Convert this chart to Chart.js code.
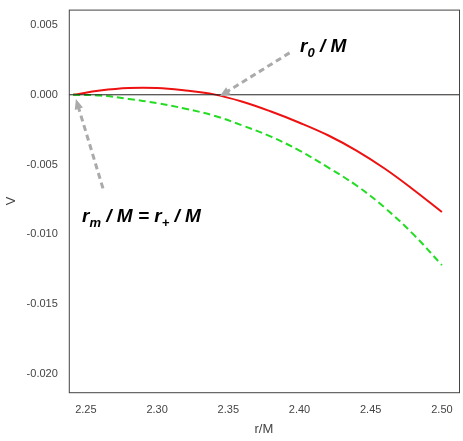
<!DOCTYPE html>
<html><head><script src="https://cdn.jsdelivr.net/npm/chart.js@4"></script>
<style>body{margin:0;background:#fff}#w{width:463px;height:441px}</style></head>
<body><div id="w"><canvas id="c"></canvas></div>
<script>
const xs = [2.241,2.26,2.28,2.30,2.32,2.34,2.36,2.38,2.40,2.42,2.44,2.46,2.48,2.50];
const redV = [0,0.0003,0.00048,0.00048,0.0003,0.00003,-0.0005,-0.0012,-0.0020,-0.0029,-0.0040,-0.0053,-0.0068,-0.0084];
const greenV = [0,-0.00005,-0.0003,-0.0006,-0.0010,-0.0015,-0.0022,-0.0030,-0.0040,-0.0052,-0.0065,-0.0081,-0.0100,-0.0122];
const xTicks = [2.25,2.30,2.35,2.40,2.45,2.50];
const yTicks = [-0.020,-0.015,-0.010,-0.005,0.000,0.005];
const xMin = 2.238, xMax = 2.512, yMin = -0.0213, yMax = 0.0061;

const deco = {id:'deco', afterDatasetsDraw(ch){
  const {ctx, chartArea:a, scales:{x,y}} = ch;
  ctx.save();
  ctx.strokeStyle='#444'; ctx.lineWidth=1; ctx.strokeRect(a.left+0.5,a.top+0.5,a.right-a.left,a.bottom-a.top);
  function arrow(x1,y1,x2,y2){
    const X1=x.getPixelForValue(x1),Y1=y.getPixelForValue(y1),X2=x.getPixelForValue(x2),Y2=y.getPixelForValue(y2);
    const ang=Math.atan2(Y2-Y1,X2-X1);
    ctx.strokeStyle='#aaa'; ctx.fillStyle='#aaa'; ctx.lineWidth=3; ctx.setLineDash([6,4]);
    ctx.beginPath(); ctx.moveTo(X1,Y1); ctx.lineTo(X2-9*Math.cos(ang),Y2-9*Math.sin(ang)); ctx.stroke();
    ctx.setLineDash([]);
    ctx.beginPath(); ctx.moveTo(X2,Y2);
    ctx.lineTo(X2-11*Math.cos(ang-0.4),Y2-11*Math.sin(ang-0.4));
    ctx.lineTo(X2-11*Math.cos(ang+0.4),Y2-11*Math.sin(ang+0.4)); ctx.fill();
  }
  arrow(2.393,0.0030,2.344,-0.0001);
  arrow(2.262,-0.0067,2.243,-0.0003);
  ctx.fillStyle='#000'; ctx.textBaseline='alphabetic';
  function sub(parts,px,py){let cx=px;for(const [t,s] of parts){ctx.font=s?'italic bold 13px "Liberation Sans"':'italic bold 19px "Liberation Sans"';ctx.fillText(t,cx,py+(s?5:0));cx+=ctx.measureText(t).width;}}
  sub([['r',0],['0',1],[' / M',0]],300,52);
  sub([['r',0],['m',1],[' / M = r',0],['+',1],[' / M',0]],82,222);
  ctx.restore();
}};
new Chart(document.getElementById('c'),{type:'line',
 data:{datasets:[
  {data:[{x:xMin,y:0},{x:xMax,y:0}],borderColor:'#222',borderWidth:1,pointRadius:0},
  {data:xs.map((v,i)=>({x:v,y:greenV[i]})),borderColor:'#22dd22',borderWidth:2,borderDash:[7,4],pointRadius:0,tension:0.4},
  {data:xs.map((v,i)=>({x:v,y:redV[i]})),borderColor:'#ee1111',borderWidth:2,pointRadius:0,tension:0.4}
 ]},
 options:{animation:false,responsive:true,maintainAspectRatio:false,
  layout:{padding:{top:0,right:4}},
  plugins:{legend:{display:false},tooltip:{enabled:false}},
  scales:{
   x:{type:'linear',min:xMin,max:xMax,afterBuildTicks:s=>{s.ticks=xTicks.map(v=>({value:v}))},
      grid:{display:false},border:{display:false},
      ticks:{color:'#444',font:{size:11},callback:v=>v.toFixed(2),maxRotation:0},
      title:{display:true,text:'r/M',color:'#444',font:{size:13},padding:{top:2}}},
   y:{min:yMin,max:yMax,afterBuildTicks:s=>{s.ticks=yTicks.map(v=>({value:v}))},
      grid:{display:false},border:{display:false},
      ticks:{color:'#444',font:{size:11},callback:v=>v.toFixed(3)},
      title:{display:true,text:'V',color:'#444',font:{size:13}}}
  }},
 plugins:[deco]});
</script></body></html>
